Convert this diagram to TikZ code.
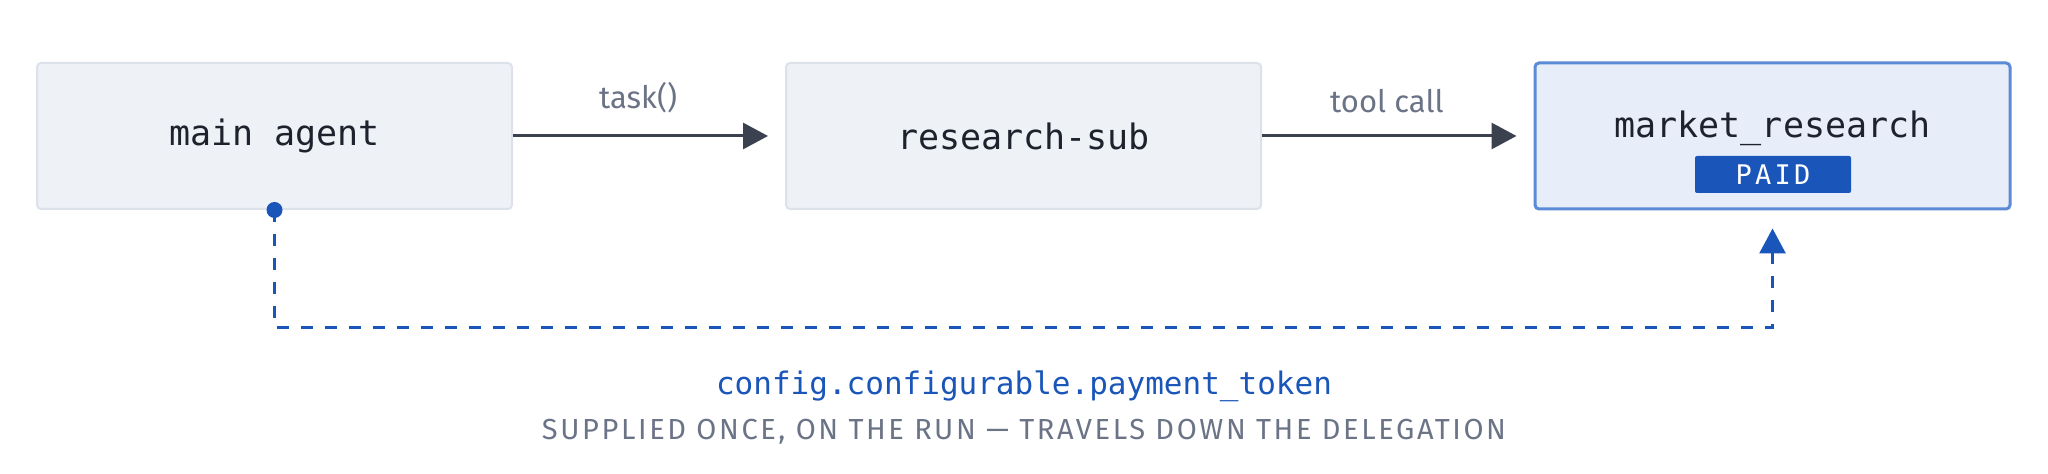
\documentclass[tikz,border=0pt]{standalone}
\usepackage{fontspec}
\setmainfont{Fira Sans}
\setmonofont{DejaVu Sans Mono}
\usetikzlibrary{arrows.meta,positioning,shapes}

\definecolor{boxfill}{HTML}{EEF1F6}
\definecolor{boxline}{HTML}{DCE1EA}
\definecolor{paidfill}{HTML}{E8EEF9}
\definecolor{paidline}{HTML}{5B8AD6}
\definecolor{ink}{HTML}{1D222C}
\definecolor{arrowink}{HTML}{3B414F}
\definecolor{muted}{HTML}{6B7386}
\definecolor{tokenblue}{HTML}{1A56B9}

\begin{document}
\begin{tikzpicture}[x=0.5pt,y=-0.5pt,-{Triangle[length=12.5pt,width=13pt]},auto,thin]
\tikzstyle{agent}=[fill=boxfill,draw=boxline,line width=1pt,rounded corners=2pt,shape=rectangle,minimum width=237.5pt,minimum height=73pt,text=ink,font=\ttfamily\fontsize{17.5}{20}\selectfont]
\tikzstyle{tool}=[agent,fill=paidfill,draw=paidline,line width=1.5pt]
\tikzstyle{badge}=[fill=tokenblue,rounded corners=1pt,minimum width=78pt,minimum height=18.5pt,inner sep=0pt,text=white,font=\ttfamily\fontsize{13.5}{15}\selectfont\addfontfeature{LetterSpace=12}]
\tikzstyle{call}=[draw=arrowink,line width=1.5pt,shorten >=8.5pt]
\tikzstyle{token}=[draw=tokenblue,line width=1.5pt,dash pattern=on 6pt off 6pt]
\tikzstyle{callname}=[text=muted,font=\fontsize{15.5}{18}\selectfont]

\useasboundingbox (0,0) rectangle (2048,474);

\node[agent]        (A) at (274.5,136)          {main agent};
\node[agent]        (B) [right of=A,node distance=374.5pt] {research-sub};
\node[tool]         (C) [right of=B,node distance=374.5pt] {};
\node[text=ink,font=\ttfamily\fontsize{17.5}{20}\selectfont] (D) at (1772.5,128) {market\_research};
\node[badge]        (E) at (1773,174.5)         {PAID};
\coordinate         (T) at ([yshift=-9pt]C.south);
\node[text=tokenblue,font=\ttfamily\fontsize{15.5}{18}\selectfont] (F) at (1024,386) {config.configurable.payment\_token};
\node[text=muted,font=\fontsize{14.5}{17}\selectfont\addfontfeature{LetterSpace=9}] (G) [below of=F,node distance=23pt] {SUPPLIED ONCE, ON THE RUN — TRAVELS DOWN THE DELEGATION};

\path
(A) edge[call] node[callname,above=7.5pt,pos=0.46] {task()} (B)
(B) edge[call] node[callname,above=7.5pt,pos=0.46] {tool call} (C)
;
\fill[tokenblue] (A.south) circle (4pt);
\draw[token] (A.south) -- ++(0,118) -| (T);
\end{tikzpicture}
\end{document}
